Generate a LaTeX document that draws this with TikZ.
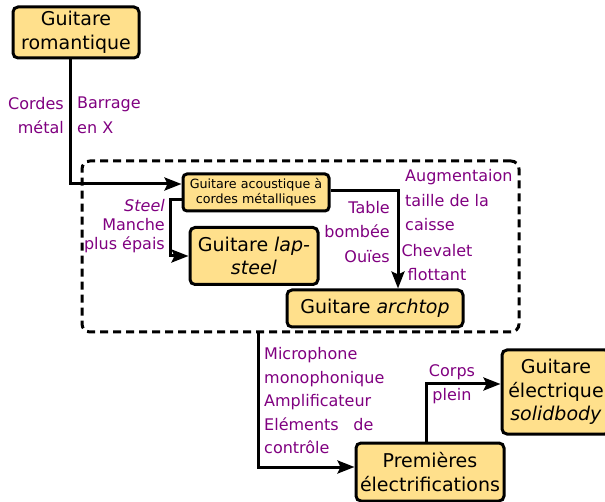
\documentclass[tikz,border=0pt]{standalone}
\usepackage{fontspec}
\setmainfont{DejaVu Sans}
\usetikzlibrary{arrows.meta}
\definecolor{boxfill}{RGB}{255,224,140}
\definecolor{labcol}{RGB}{128,0,128}
\begin{document}
\begin{tikzpicture}[x=1pt, y=-1pt,
    box/.style={draw, line width=3pt, rounded corners=5pt, fill=boxfill, align=center,
        inner sep=0pt, font=\fontsize{19}{23.5}\selectfont},
    lab/.style={text=labcol, inner sep=0pt, font=\fontsize{16}{24.5}\selectfont},
    arr/.style={line width=3pt, -{Stealth[length=17pt, width=13pt, inset=3pt]}}]
\useasboundingbox (0,0) rectangle (605,502);
    % group of acoustic guitars
    \node[draw, line width=3pt, dash pattern=on 8pt off 5pt, rounded corners=8pt,
        minimum width=437pt, minimum height=171pt] (grp) at (300.5,246.5) {};
    \node[box, minimum width=126pt, minimum height=51pt] (rom) at (76,32.5) {Guitare\\romantique};
    \node[box, minimum width=146pt, minimum height=37pt, rounded corners=4pt,
        font=\fontsize{12.7}{15}\selectfont] (acou) at (256,192.5) {Guitare acoustique à\\cordes métalliques};
    \node[box, minimum width=128pt, minimum height=57pt] (lap) at (254,256) {Guitare \textit{lap-}\\\textit{steel}};
    \node[box, minimum width=176pt, minimum height=37pt] (arch) at (375,308.5) {Guitare \textit{archtop}};
    \node[box, minimum width=148pt, minimum height=58pt] (elec) at (430,472) {Premières\\électrifications};
    \node[box, minimum width=108pt, minimum height=84pt] (solid) at (556,392) {Guitare\\électrique\\\textit{solidbody}};
    % bends
    \coordinate (k1) at (70,184);
    \coordinate (k2) at (170,200);
    \coordinate (k3) at (398,191);
    \coordinate (k4) at (258,467);
    \coordinate (k5) at (426,384);
    \draw[arr] (rom.south -| k1) |- (acou.west |- k1);
    \draw[arr] (acou.west |- k2) -- (k2) |- (lap.west);
    \draw[arr] (acou.east |- k3) -| (arch.north -| k3);
    \draw[arr] (grp.south -| k4) |- (elec.west |- k4);
    \draw[arr] (elec.north -| k5) |- (solid.west |- k5);
    % labels
    \node[lab, anchor=east, align=right] (l1) at (64,115.5) {Cordes\\métal};
    \node[lab, anchor=west, align=left] (l2) at (77,115.5) {Barrage\\en X};
    \node[lab, anchor=east, align=right, font=\fontsize{16}{19}\selectfont] (l3) at (165,226) {\textit{Steel}\\Manche\\plus épais};
    \node[lab, anchor=east, align=right] (l4) at (390,232) {Table\\bombée\\Ouïes};
    \node[lab, anchor=west, align=left] (l5) at (405,200.5) {Augmentaion\\taille de la\\caisse};
    \node[lab, align=center, font=\fontsize{16}{24}\selectfont] (l6) at (437,263) {Chevalet\\flottant};
    \node[lab, anchor=west, align=left, font=\fontsize{16}{23.5}\selectfont] (l7) at (264,401)
        {Microphone\\monophonique\\Amplificateur\\Eléments\hspace{0.6em} de\\contrôle};
    \node[lab, align=center, font=\fontsize{16}{24}\selectfont] (l8) at (452,384) {Corps\\plein};
\end{tikzpicture}
\end{document}
